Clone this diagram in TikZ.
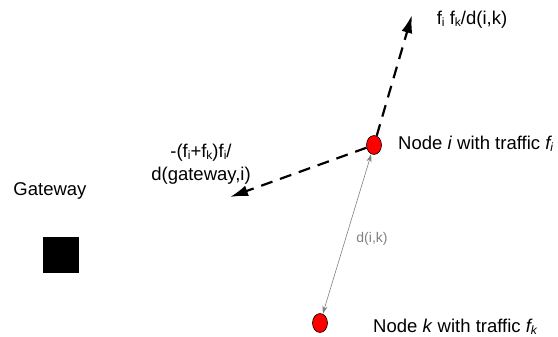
\documentclass[tikz,border=0pt]{standalone}
\usepackage{fontspec}
\setmainfont{Liberation Sans}
\usetikzlibrary{arrows.meta}
\usetikzlibrary{shapes}
\usetikzlibrary{positioning}

\newcommand{\sbs}[1]{\raisebox{-0.2ex}{\scalebox{0.65}{#1}}}

\begin{document}
\begin{tikzpicture}[x=1pt, y=1pt]
    \tikzset{
        station/.style={ellipse, draw=black, fill=red, line width=0.6pt, minimum width=15pt, minimum height=19pt, inner sep=0pt},
        flow/.style={line width=2.2pt, dash pattern=on 12pt off 8pt, -{Latex[length=18pt, width=11pt]}},
        dist/.style={gray, line width=0.6pt, {Stealth[length=8pt, width=5pt]}-{Stealth[length=8pt, width=5pt]}},
        lbl/.style={font=\fontsize{18.5}{23}\selectfont, align=center, inner sep=0pt}
    }

    % Frame
    \useasboundingbox (0,0) rectangle (558,-337);

    % Nodes
    \node [station] (ni) at (374,-145) {};
    \node [station] (nk) at (320,-323) {};
    \node [fill=black, minimum size=36pt, inner sep=0pt] (gw) at (61,-255) {};

    % Free ends of the flows
    \coordinate (up) at (412,-15);
    \coordinate (down) at (230,-197);

    % Flows
    \draw [flow] (ni) -- (up);
    \draw [flow] (ni) -- (down);

    % Distance
    \draw [dist] (ni) -- (nk);

    % Labels
    \node [lbl] (gwlbl) at (50,-191) {Gateway};
    \node [lbl] (downlbl) at (201,-164) {-(f\sbs{i}+f\sbs{k})f\sbs{i}/\\d(gateway,i)};
    \node [lbl] (uplbl) at (472,-20) {f\sbs{i} f\sbs{k}/d(i,k)};
    \node [lbl, anchor=west] (nilbl) at (398,-144) {Node \textit{i} with traffic \textit{f\sbs{i}}};
    \node [lbl, anchor=west] (nklbl) at (373,-327) {Node \textit{k} with traffic \textit{f\sbs{k}}};
    \node [lbl, gray, font=\fontsize{14}{16}\selectfont] (distlbl) at (372,-239) {d(i,k)};

\end{tikzpicture}
\end{document}
